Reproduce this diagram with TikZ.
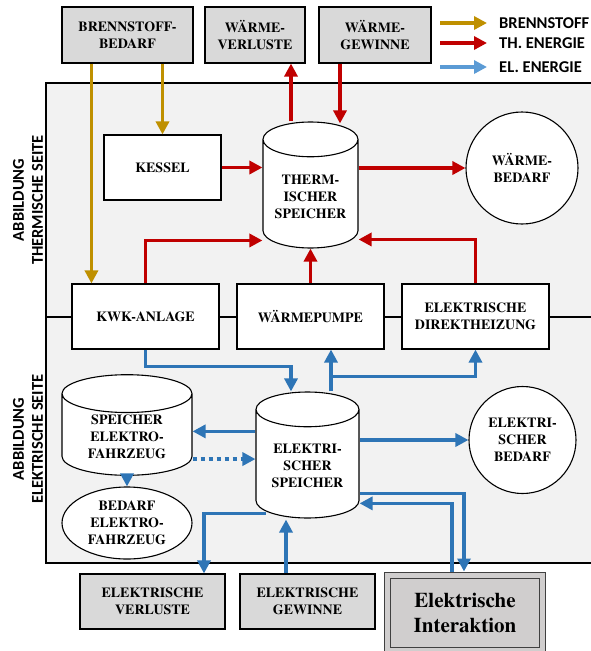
\documentclass[tikz,border=0pt]{standalone}
\usepackage{fontspec}
\setmainfont{texgyretermes}[Extension=.otf, UprightFont=*-regular, BoldFont=*-bold]
\newfontfamily\calibri{Carlito}
\usetikzlibrary{arrows.meta,shapes.geometric}

\definecolor{framegrey}{HTML}{F2F2F2}
\definecolor{boxgrey}{HTML}{D9D9D9}
\definecolor{eigrey}{HTML}{D0CECE}
\definecolor{fuelgold}{HTML}{BF9000}
\definecolor{thermred}{HTML}{C00000}
\definecolor{elblue}{HTML}{2E75B6}
\definecolor{legblue}{HTML}{5B9BD5}

\begin{document}
\begin{tikzpicture}[x=1pt, y=-1pt,
    every node/.style={font=\rmfamily\bfseries\fontsize{14}{17}\selectfont, align=center, inner sep=2pt},
    whitebox/.style={draw, fill=white, line width=1.1pt, minimum width=147pt, minimum height=65pt},
    greybox/.style={draw, fill=boxgrey, line width=1.1pt, minimum height=56pt},
    store/.style={cylinder, shape border rotate=90, draw, fill=white, line width=1.1pt, aspect=0.46},
    demand/.style={circle, draw, fill=white, line width=1.1pt, inner sep=0pt},
    sidetext/.style={font=\calibri\bfseries\fontsize{16.5}{19}\selectfont},
    flow/.style={line width=3.5pt, -{Triangle[length=13pt,width=13pt]}},
    fuelflow/.style={flow, color=fuelgold},
    thermflow/.style={flow, color=thermred},
    elflow/.style={flow, color=elblue}]

  \useasboundingbox (0,0) rectangle (591,651);
  \clip (0,0) rectangle (591,651);

  % Rahmen und Trennlinie
  \draw[fill=framegrey, line width=1.1pt] (46,83) rectangle (610,563);
  \draw[line width=1.1pt] (46,317) -- (610,317);

  % Seitenbeschriftung
  \node[sidetext, rotate=90] (thside) at (28,200) {ABBILDUNG\\THERMISCHE SEITE};
  \node[sidetext, rotate=90] (elside) at (28,439) {ABBILDUNG\\ELEKTRISCHE SEITE};

  % Legende
  \node[sidetext, anchor=west, inner sep=0pt] (legfuel) at (499,23) {BRENNSTOFF};
  \node[sidetext, anchor=west, inner sep=0pt] (legtherm) at (499,43) {TH. ENERGIE};
  \node[sidetext, anchor=west, inner sep=0pt] (legel) at (499,67) {EL. ENERGIE};
  \draw[fuelflow] ([xshift=-59pt]legfuel.west) -- ([xshift=-12pt]legfuel.west);
  \draw[thermflow] ([xshift=-59pt]legtherm.west) -- ([xshift=-12pt]legtherm.west);
  \draw[flow, color=legblue] ([xshift=-59pt]legel.west) -- ([xshift=-12pt]legel.west);

  % Obere Kästen
  \node[greybox, minimum width=131pt] (bb) at (127.5,35) {BRENNSTOFF-\\BEDARF};
  \node[greybox, minimum width=100pt] (wv) at (255,35) {WÄRME-\\VERLUSTE};
  \node[greybox, minimum width=112pt] (wg) at (375,35) {WÄRME-\\GEWINNE};

  % Thermische Seite
  \node[whitebox, minimum width=117pt] (kessel) at (162.5,167.5) {KESSEL};
  \node[store, minimum width=95pt, minimum height=126pt, anchor=shape center] (ts) at (310.5,185) {THERM-\\ISCHER\\SPEICHER};
  \node[demand, minimum size=112pt] (wb) at (522,168) {WÄRME-\\BEDARF};

  \node[whitebox] (kwk) at (145.5,316.5) {KWK-ANLAGE};
  \node[whitebox] (wp) at (310.5,316.5) {WÄRMEPUMPE};
  \node[whitebox] (edh) at (475.5,316.5) {ELEKTRISCHE\\DIREKTHEIZUNG};

  % Elektrische Seite
  \node[store, minimum width=103pt, minimum height=126pt, anchor=shape center] (es) at (307.5,455) {ELEKTRI-\\SCHER\\SPEICHER};
  \node[store, minimum width=130pt, minimum height=88pt, anchor=shape center] (sef) at (127,425) {SPEICHER\\ELEKTRO-\\FAHRZEUG};
  \node[ellipse, draw, fill=white, line width=1.1pt, minimum width=130pt, minimum height=72pt, inner sep=0pt] (bef) at (127,523) {BEDARF\\ELEKTRO-\\FAHRZEUG};
  \node[demand, minimum size=107pt] (eb) at (522.5,440) {ELEKTRI-\\SCHER\\BEDARF};

  % Untere Kästen
  \node[greybox, minimum width=145pt, minimum height=55pt] (ev) at (152.5,601.5) {ELEKTRISCHE\\VERLUSTE};
  \node[greybox, minimum width=135pt, minimum height=55pt] (eg) at (307.5,601.5) {ELEKTRISCHE\\GEWINNE};
  \node[draw=black!75, line width=1pt, double=eigrey, double distance=5pt, fill=eigrey,
        minimum width=155pt, minimum height=75pt,
        font=\rmfamily\bfseries\fontsize{21}{25}\selectfont] (ei) at (465,613) {Elektrische\\Interaktion};

  % Brennstoff
  \draw[fuelflow] (bb.south -| kwk.north west) ++(20,0) coordinate (fuelkwk) -- (fuelkwk |- kwk.north);
  \draw[fuelflow] (bb.south -| kessel.north) -- (kessel.north);

  % Thermische Energie
  \draw[thermflow] (kessel.east) -- (kessel.east -| ts.west);
  \draw[thermflow] (ts.east |- wb.west) -- (wb.west);
  \draw[thermflow] (kwk.north) |- ([yshift=-44pt]ts.west);
  \draw[thermflow] (wp.north) -- (wp.north |- ts.south);
  \draw[thermflow] (edh.north) |- ([yshift=-43pt]ts.east);
  \draw[thermflow] ([xshift=-19.5pt]ts.north) -- ([xshift=-19.5pt]ts.north |- wv.south);
  \draw[thermflow] ([xshift=-35pt]wg.south) -- ([xshift=-35pt,yshift=-2pt]wg.south |- ts.north);

  % Elektrische Energie
  \draw[elflow] (kwk.south) |- ([xshift=-16.5pt,yshift=25pt]es.north) -- ([xshift=-16.5pt]es.north);
  \draw[elflow] ([xshift=23.5pt]es.north) -- ([xshift=23.5pt]es.north |- wp.south);
  \draw[elflow] ([xshift=23.5pt,yshift=15pt]es.north) -| (edh.south);
  \draw[elflow] ([yshift=35pt]es.west) -- ([yshift=35pt]es.west -| sef.east);
  \draw[elflow, dash pattern=on 4pt off 4pt] ([yshift=-22pt]sef.east) -- ([yshift=-22pt]sef.east -| es.west);
  \draw[elflow] (sef.south) -- (bef.north);
  \draw[elflow] (es.east |- eb.west) -- (eb.west);
  \draw[elflow] ([yshift=-27pt]es.east) -| ([xshift=-1pt,yshift=3.5pt]ei.north);
  \draw[elflow] ([xshift=-13pt,yshift=3.5pt]ei.north) |- ([yshift=-37pt]es.east);
  \draw[elflow] ([xshift=-42pt,yshift=5pt]es.south) -| ([xshift=51.5pt]ev.north);
  \draw[elflow] ([xshift=-21.5pt]eg.north) -- ([xshift=-21.5pt,yshift=-1pt]eg.north |- es.south);

\end{tikzpicture}
\end{document}
